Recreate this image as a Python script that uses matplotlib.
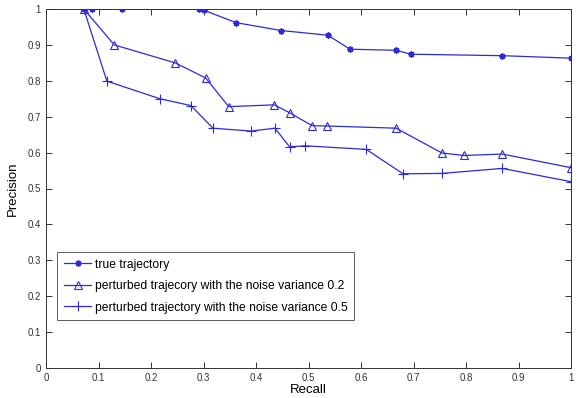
import matplotlib
matplotlib.use("Agg")
import matplotlib.pyplot as plt

plt.rcParams['font.family'] = ['Liberation Sans', 'DejaVu Sans']

true_x = [0.072, 0.087, 0.145, 0.291, 0.30, 0.362, 0.448, 0.537, 0.579, 0.667, 0.695, 0.869, 1.0]
true_y = [1.0, 1.0, 1.0, 1.0, 0.997, 0.962, 0.940, 0.927, 0.888, 0.885, 0.874, 0.870, 0.863]

p02_x = [0.072, 0.130, 0.246, 0.304, 0.348, 0.435, 0.464, 0.507, 0.536, 0.667, 0.754, 0.796, 0.869, 1.0]
p02_y = [1.0, 0.900, 0.850, 0.808, 0.728, 0.733, 0.711, 0.675, 0.674, 0.668, 0.599, 0.592, 0.596, 0.558]

p05_x = [0.072, 0.116, 0.217, 0.276, 0.318, 0.391, 0.436, 0.464, 0.493, 0.610, 0.680, 0.754, 0.869, 1.0]
p05_y = [1.0, 0.799, 0.750, 0.731, 0.668, 0.660, 0.668, 0.616, 0.619, 0.609, 0.541, 0.542, 0.556, 0.519]

labels = ["true trajectory",
          "perturbed trajecory with the noise variance 0.2",
          "perturbed trajectory with the noise variance 0.5"]

color = "#2b2bd8"
fig = plt.figure(figsize=(5.81, 3.98), dpi=100)
ax = fig.add_axes([46/581, 1-368/398, 525/581, 359/398])
ax.plot(true_x, true_y, color=color, lw=0.9, marker=(8, 2, 0), ms=4.5, mew=1.0, label=labels[0])
ax.plot(p02_x, p02_y, color=color, lw=0.9, marker="^", ms=5.5, mfc="none", mew=0.8, label=labels[1])
ax.plot(p05_x, p05_y, color=color, lw=0.9, marker="+", ms=7, mew=0.8, label=labels[2])

ax.set_xlim(0, 1)
ax.set_ylim(0, 1)
ticks = [0, 0.1, 0.2, 0.3, 0.4, 0.5, 0.6, 0.7, 0.8, 0.9, 1]
ticklabels = ["0", "0.1", "0.2", "0.3", "0.4", "0.5", "0.6", "0.7", "0.8", "0.9", "1"]
ax.set_xticks(ticks)
ax.set_xticklabels(ticklabels)
ax.set_yticks(ticks)
ax.set_yticklabels(ticklabels)
ax.tick_params(direction="in", top=True, right=True, labelsize=7, length=4, width=0.7, colors="#333333")
for s in ax.spines.values():
    s.set_linewidth(0.7)
    s.set_color("#333333")
ax.set_xlabel("Recall", fontsize=9.5, labelpad=1)
ax.set_ylabel("Precision", fontsize=9.5, labelpad=6)
leg = ax.legend(loc="upper left", bbox_to_anchor=(0.021, 0.323), borderaxespad=0, fontsize=8.7,
                frameon=True, fancybox=False, edgecolor="#333333", handlelength=2.3, borderpad=0.55,
                labelspacing=0.78, handletextpad=0.3)
leg.get_frame().set_linewidth(0.7)
fig.savefig("out.png", dpi=100)
